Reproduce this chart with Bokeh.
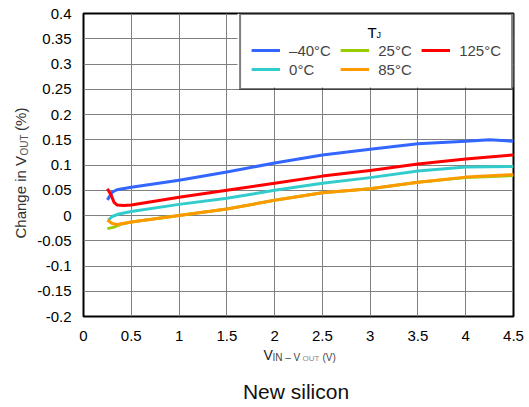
from math import pi
from bokeh.plotting import figure
from bokeh.models import Range1d, FixedTicker, Legend, LegendItem, Label, BoxAnnotation
from bokeh.core.properties import value
from bokeh.embed import file_html
from bokeh.resources import INLINE

# ---- data ----
x_m40 = [0.25, 0.30, 0.35, 0.5, 1.0, 1.5, 2.0, 2.5, 3.0, 3.5, 4.0, 4.25, 4.5]
y_m40 = [0.031, 0.046, 0.051, 0.056, 0.070, 0.086, 0.104, 0.120, 0.131, 0.142, 0.147, 0.150, 0.147]

x_0 = [0.26, 0.30, 0.37, 0.5, 1.0, 1.5, 2.0, 2.5, 3.0, 3.5, 4.0, 4.5]
y_0 = [-0.009, -0.002, 0.003, 0.008, 0.022, 0.034, 0.050, 0.064, 0.075, 0.088, 0.096, 0.097]

x_25 = [0.25, 0.32, 0.38, 0.5, 1.0, 1.5, 2.0, 2.5, 3.0, 3.5, 4.0, 4.5]
y_25 = [-0.026, -0.023, -0.018, -0.013, 0.000, 0.013, 0.030, 0.045, 0.053, 0.066, 0.075, 0.079]

x_85 = [0.25, 0.30, 0.35, 0.5, 1.0, 1.5, 2.0, 2.5, 3.0, 3.5, 4.0, 4.5]
y_85 = [-0.009, -0.016, -0.018, -0.013, 0.000, 0.013, 0.030, 0.045, 0.053, 0.066, 0.076, 0.081]

x_125 = [0.25, 0.29, 0.32, 0.35, 0.42, 0.5, 1.0, 1.5, 2.0, 2.5, 3.0, 3.5, 4.0, 4.5]
y_125 = [0.053, 0.040, 0.026, 0.021, 0.020, 0.021, 0.036, 0.050, 0.064, 0.078, 0.089, 0.102, 0.112, 0.120]

series_labels = ["\u201340\u00b0C", "0\u00b0C", "25\u00b0C", "85\u00b0C", "125\u00b0C"]
series_colors = ["#3366ff", "#33cccc", "#99cc00", "#ff9900", "#ff0000"]

x_ticks = [0, 0.5, 1, 1.5, 2, 2.5, 3, 3.5, 4, 4.5]
x_tick_labels = ["0", "0.5", "1", "1.5", "2", "2.5", "3", "3.5", "4", "4.5"]
y_ticks = [-0.2, -0.15, -0.1, -0.05, 0, 0.05, 0.1, 0.15, 0.2, 0.25, 0.3, 0.35, 0.4]
y_tick_labels = ["-0.2", "-0.15", "-0.1", "-0.05", "0", "0.05", "0.1", "0.15", "0.2",
                 "0.25", "0.3", "0.35", "0.4"]

FONT = "Liberation Sans"
NB = "\u00a0"

# ---- layout (page pixels; canvas sits at page 0,0) ----
W, H = 529, 407
FL, FT, FW, FH = 83, 13, 430, 303
X0, X1, Y0, Y1 = 0.0, 4.5, -0.2, 0.4


def dx(px):  # page pixel -> data x
    return X0 + (px - FL) / FW * (X1 - X0)


def dy(py):  # page pixel -> data y
    return Y1 - (py - FT) / FH * (Y1 - Y0)


p = figure(width=W, height=H, x_range=Range1d(X0, X1), y_range=Range1d(Y0, Y1),
           output_backend="svg", toolbar_location=None,
           min_border_left=FL, min_border_top=FT,
           min_border_right=W - FL - FW, min_border_bottom=H - FT - FH)

p.background_fill_color = "white"
p.border_fill_color = "white"
p.outline_line_color = "black"
p.outline_line_width = 2

for ax in (p.xaxis[0], p.yaxis[0]):
    ax.axis_line_color = None
    ax.major_tick_line_color = None
    ax.minor_tick_line_color = None
    ax.major_label_text_font = FONT
    ax.major_label_text_font_size = "15px"
    ax.major_label_text_color = "black"

p.xaxis[0].ticker = FixedTicker(ticks=x_ticks)
p.xaxis[0].major_label_overrides = {t: l for t, l in zip(x_ticks, x_tick_labels)}
p.xaxis[0].major_label_standoff = 8
p.yaxis[0].ticker = FixedTicker(ticks=y_ticks)
p.yaxis[0].major_label_overrides = {t: l for t, l in zip(y_ticks, y_tick_labels)}
p.yaxis[0].major_label_standoff = 6

p.xgrid.grid_line_color = "#808080"
p.ygrid.grid_line_color = "#808080"
p.xgrid.grid_line_width = 1
p.ygrid.grid_line_width = 1

# white panel behind the (transparent) legend, drawn under the curves
p.add_layout(BoxAnnotation(left=dx(237), right=dx(513), top=dy(13), bottom=dy(87),
                           fill_color="white", fill_alpha=1, line_color=None,
                           level="underlay"))

lw = 3
r_m40 = p.line(x_m40, y_m40, line_color=series_colors[0], line_width=lw, line_join="round")
r_0 = p.line(x_0, y_0, line_color=series_colors[1], line_width=lw, line_join="round")
r_25 = p.line(x_25, y_25, line_color=series_colors[2], line_width=lw, line_join="round")
r_85 = p.line(x_85, y_85, line_color=series_colors[3], line_width=lw, line_join="round")
r_125 = p.line(x_125, y_125, line_color=series_colors[4], line_width=lw, line_join="round")

GAP = NB + NB  # column gap inside the legend
legend = Legend(items=[
    LegendItem(label=series_labels[0] + GAP, renderers=[r_m40]),
    LegendItem(label=series_labels[2] + GAP, renderers=[r_25]),
    LegendItem(label=series_labels[4], renderers=[r_125]),
    LegendItem(label=series_labels[1] + GAP, renderers=[r_0]),
    LegendItem(label=series_labels[3] + GAP, renderers=[r_85]),
])
legend.location = "top_right"
legend.orientation = "horizontal"
legend.ncols = 3
legend.margin = 0
legend.padding = 10
legend.spacing = 1
legend.border_line_color = "black"
legend.border_line_width = 2
legend.background_fill_alpha = 0
legend.label_text_font = FONT
legend.label_text_font_size = "15px"
legend.glyph_width = 29
legend.glyph_height = 18
legend.label_height = 18
legend.label_standoff = 9
legend.title = " "
legend.title_text_font_size = "13px"
legend.title_standoff = 1
p.add_layout(legend)


def lab(text, px, py, size, color="black", angle=0.0, align="left", place="below"):
    # (px, py): left/centre edge and the vertical middle of the text, in page pixels
    kw = dict(x=dx(px), y=dy(py), text=text, angle=angle,
              text_font_size=f"{size}px", text_color=color,
              text_align=align, text_baseline="middle")
    try:
        lbl = Label(text_font=value(FONT), **kw)
    except Exception:
        lbl = Label(text_font=FONT, **kw)
    p.add_layout(lbl, place)


# legend title T_J
lab("T", 367, 31.5, 15, place="right")
lab("J", 376, 34.5, 9, place="right")

# y axis label: Change in V_OUT (%)
lab("Change in V" + NB * 6 + "(%)", 19.5, 238, 15, "#333333", angle=pi / 2, place="left")
lab("OUT", 23.5, 155, 10, "#555555", angle=pi / 2, place="left")

# x axis label: V_IN – V_OUT (V)
lab("V", 263, 354, 14, "#222222")
lab("IN \u2013 V" + NB * 8 + "(V)", 272, 357, 10, "#444444")
lab("OUT", 302, 358, 8, "#888888")

# caption
lab("New silicon", 295.5, 391, 21, "#111111", align="center")

open("out.html", "w").write(file_html(p, INLINE))
